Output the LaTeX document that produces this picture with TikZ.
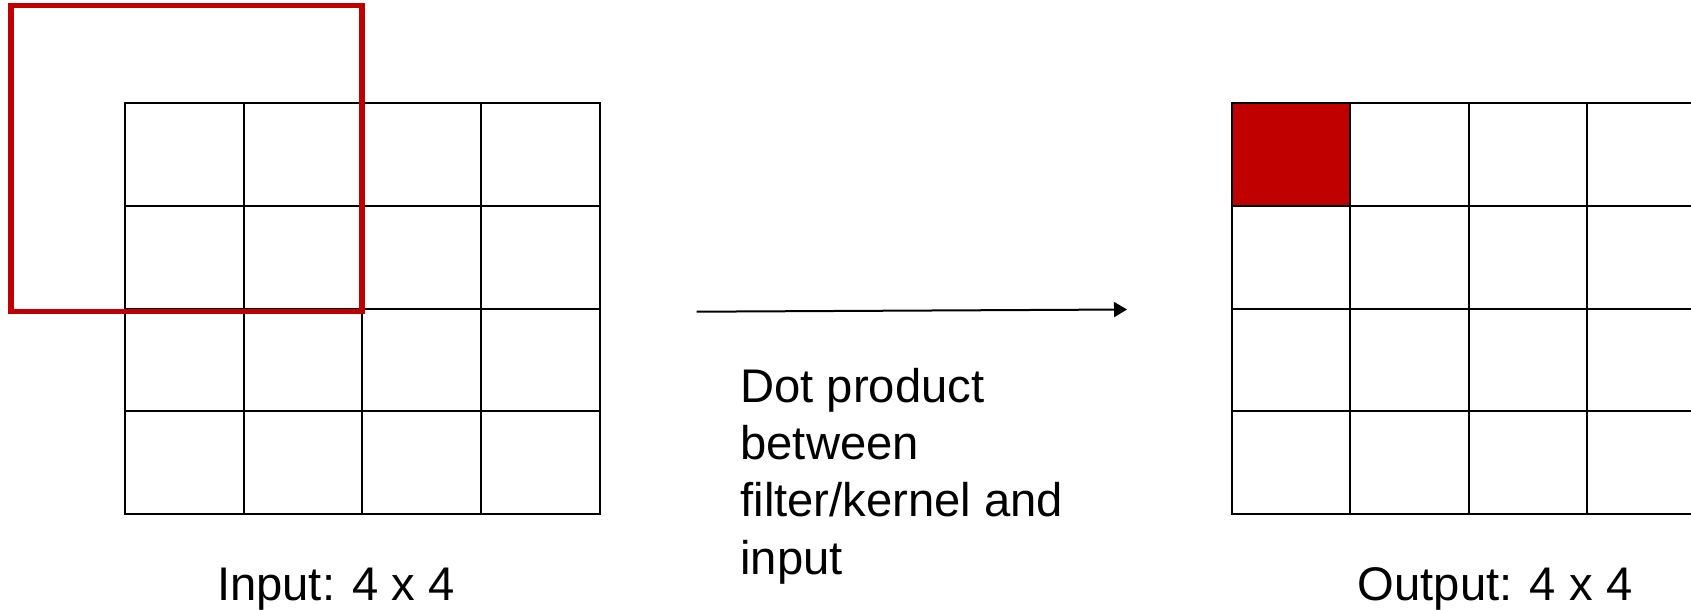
\documentclass[tikz,border=0pt]{standalone}
\usepackage{fontspec}
\setmainfont{Liberation Sans}
\usetikzlibrary{arrows.meta}
\definecolor{krnred}{HTML}{C00000}
\tikzset{
  cell/.style={draw, line width=1pt, minimum width=59.3pt, minimum height=51.25pt, inner sep=0pt},
  outfill00/.style={fill=krnred},
  kernel/.style={draw=krnred, line width=2.6pt, minimum width=175.5pt, minimum height=153pt, inner sep=0pt},
  lbl/.style={font=\fontsize{23.6}{28.65}\selectfont, inner sep=0pt},
}
\begin{document}
\begin{tikzpicture}[x=0.5pt, y=-0.5pt, >={Triangle[length=6.5pt, width=7.5pt]}]
\useasboundingbox (0,0) rectangle (1691,610);
\clip (0,0) rectangle (1691,610);
% input and output grids
\foreach \r in {0,...,3}
  \foreach \c in {0,...,3} {
    \node[cell] (in\r\c) at ({125.1+118.6*(\c+0.5)},{103.5+102.5*(\r+0.5)}) {};
    \node[cell, outfill\r\c/.try] (out\r\c) at ({1231.5+118.6*(\c+0.5)},{103.5+102.5*(\r+0.5)}) {};
  }
% filter over the padded input
\node[kernel] (filter) at (186.5,158.7) {};
\coordinate (arrS) at (696.7,311.7);
\coordinate (arrE) at (1127,309.5);
\draw[->, line width=1pt] (arrS) -- (arrE);
\node[lbl, align=left, anchor=north west] (dot) at (740,367.5) {Dot product\\between\\filter/kernel and\\input};
\node[lbl, anchor=base] (inlbl) at (336,600) {Input: 4 x 4};
\node[lbl, anchor=base] (outlbl) at (1495,600) {Output: 4 x 4};
\end{tikzpicture}
\end{document}
